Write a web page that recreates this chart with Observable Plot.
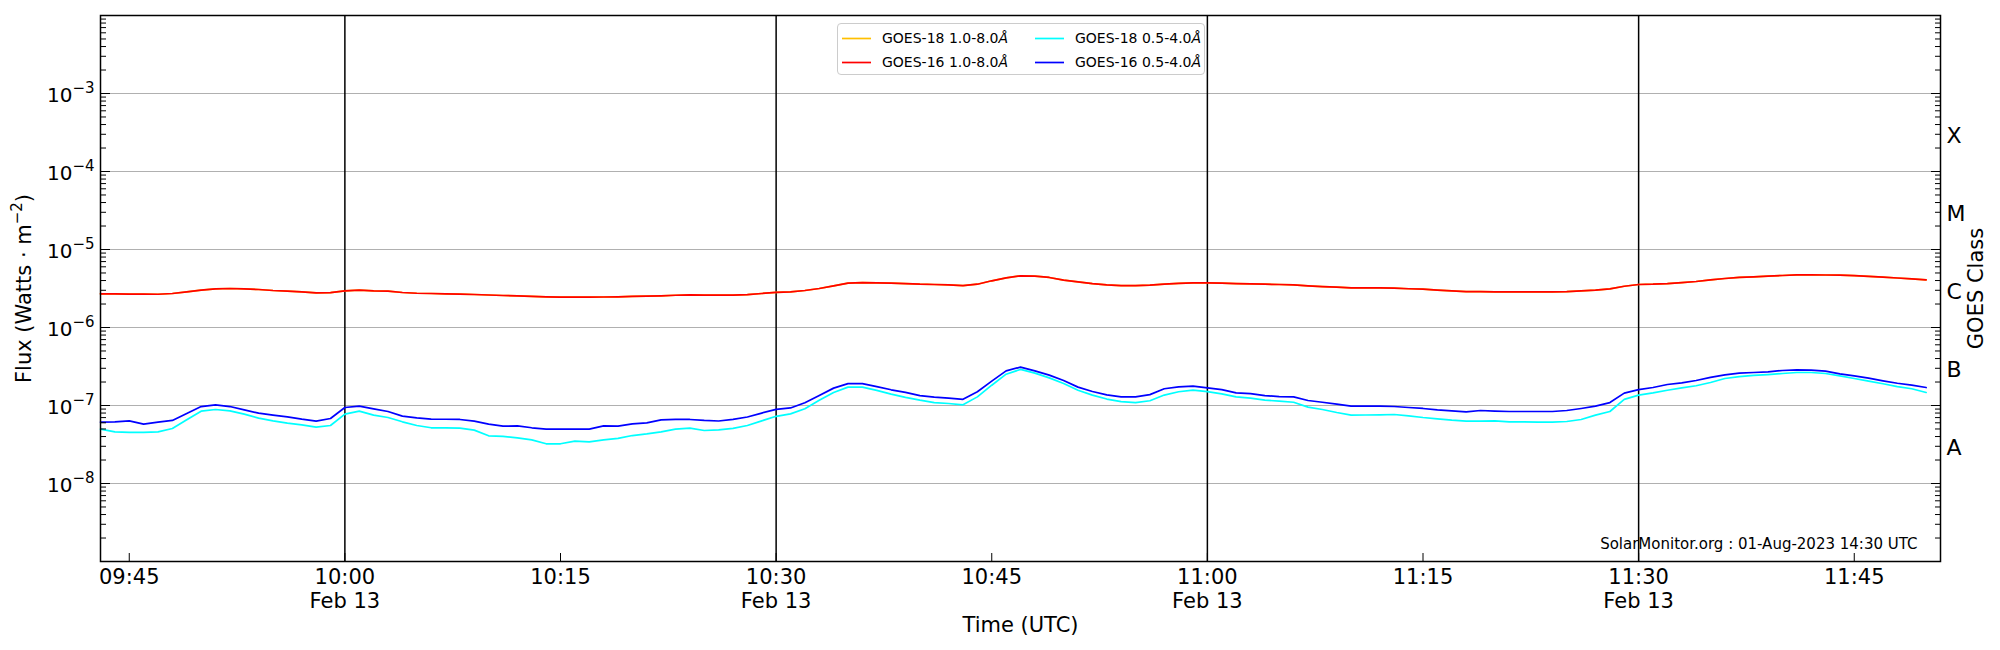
<!DOCTYPE html>
<html>
<head>
<meta charset="utf-8">
<script src="https://cdn.jsdelivr.net/npm/d3@7"></script>
<script src="https://cdn.jsdelivr.net/npm/@observablehq/plot@0.6"></script>
<style>
  body { margin: 0; background: #fff; }
  #wrap { position: relative; width: 2000px; height: 650px; font-family: "DejaVu Sans", sans-serif; }
  #legend { position: absolute; left: 837px; top: 23px; width: 368px; height: 52px; box-sizing: border-box;
            border: 1px solid #cccccc; border-radius: 4px; background: rgba(255,255,255,0.8); font-size: 14px; color: #000; }
  .item { position: absolute; height: 16px; line-height: 16px; white-space: nowrap; }
  .item svg { position: absolute; left: 0; top: 0; }
  .item span.t { position: absolute; top: 0; }
</style>
</head>
<body>
<div id="wrap"><div id="legend"></div></div>
<script>
// ---- data (1-minute GOES XRS fluxes, W/m^2), starting 2023-02-13 09:43 UTC ----
const startTime = "2023-02-13T09:43:00Z";

const goes18Long = [
2.70e-6,2.70e-6,2.68e-6,2.68e-6,2.67e-6,2.73e-6,2.87e-6,3.01e-6,3.13e-6,3.16e-6,
3.13e-6,3.07e-6,2.98e-6,2.92e-6,2.87e-6,2.78e-6,2.80e-6,2.95e-6,3.01e-6,2.95e-6,
2.92e-6,2.81e-6,2.75e-6,2.73e-6,2.70e-6,2.68e-6,2.65e-6,2.61e-6,2.57e-6,2.55e-6,
2.51e-6,2.47e-6,2.45e-6,2.45e-6,2.45e-6,2.46e-6,2.47e-6,2.50e-6,2.52e-6,2.55e-6,
2.59e-6,2.62e-6,2.60e-6,2.60e-6,2.60e-6,2.64e-6,2.73e-6,2.82e-6,2.87e-6,2.98e-6,
3.16e-6,3.42e-6,3.70e-6,3.77e-6,3.74e-6,3.70e-6,3.66e-6,3.59e-6,3.56e-6,3.52e-6,
3.45e-6,3.59e-6,3.97e-6,4.33e-6,4.60e-6,4.55e-6,4.38e-6,4.05e-6,3.85e-6,3.66e-6,
3.52e-6,3.45e-6,3.45e-6,3.49e-6,3.59e-6,3.68e-6,3.74e-6,3.74e-6,3.70e-6,3.65e-6,
3.62e-6,3.59e-6,3.56e-6,3.51e-6,3.42e-6,3.35e-6,3.29e-6,3.23e-6,3.23e-6,3.23e-6,
3.20e-6,3.14e-6,3.10e-6,3.01e-6,2.95e-6,2.89e-6,2.88e-6,2.87e-6,2.87e-6,2.87e-6,
2.87e-6,2.87e-6,2.88e-6,2.95e-6,3.01e-6,3.13e-6,3.38e-6,3.56e-6,3.59e-6,3.66e-6,
3.77e-6,3.89e-6,4.08e-6,4.25e-6,4.39e-6,4.46e-6,4.55e-6,4.64e-6,4.73e-6,4.73e-6,
4.71e-6,4.69e-6,4.62e-6,4.53e-6,4.42e-6,4.31e-6,4.19e-6,4.08e-6];

const goes16Long = [
2.70e-6,2.70e-6,2.68e-6,2.68e-6,2.67e-6,2.73e-6,2.87e-6,3.01e-6,3.13e-6,3.16e-6,
3.13e-6,3.07e-6,2.98e-6,2.92e-6,2.87e-6,2.78e-6,2.80e-6,2.95e-6,3.01e-6,2.95e-6,
2.92e-6,2.81e-6,2.75e-6,2.73e-6,2.70e-6,2.68e-6,2.65e-6,2.61e-6,2.57e-6,2.55e-6,
2.51e-6,2.47e-6,2.45e-6,2.45e-6,2.45e-6,2.46e-6,2.47e-6,2.50e-6,2.52e-6,2.55e-6,
2.59e-6,2.62e-6,2.60e-6,2.60e-6,2.60e-6,2.64e-6,2.73e-6,2.82e-6,2.87e-6,2.98e-6,
3.16e-6,3.42e-6,3.70e-6,3.77e-6,3.74e-6,3.70e-6,3.66e-6,3.59e-6,3.56e-6,3.52e-6,
3.45e-6,3.59e-6,3.97e-6,4.33e-6,4.60e-6,4.55e-6,4.38e-6,4.05e-6,3.85e-6,3.66e-6,
3.52e-6,3.45e-6,3.45e-6,3.49e-6,3.59e-6,3.68e-6,3.74e-6,3.74e-6,3.70e-6,3.65e-6,
3.62e-6,3.59e-6,3.56e-6,3.51e-6,3.42e-6,3.35e-6,3.29e-6,3.23e-6,3.23e-6,3.23e-6,
3.20e-6,3.14e-6,3.10e-6,3.01e-6,2.95e-6,2.89e-6,2.88e-6,2.87e-6,2.87e-6,2.87e-6,
2.87e-6,2.87e-6,2.88e-6,2.95e-6,3.01e-6,3.13e-6,3.38e-6,3.56e-6,3.59e-6,3.66e-6,
3.77e-6,3.89e-6,4.08e-6,4.25e-6,4.39e-6,4.46e-6,4.55e-6,4.64e-6,4.73e-6,4.73e-6,
4.71e-6,4.69e-6,4.62e-6,4.53e-6,4.42e-6,4.31e-6,4.19e-6,4.08e-6];

const goes18Short = [
4.98e-8,4.60e-8,4.51e-8,4.51e-8,4.60e-8,5.07e-8,6.55e-8,8.46e-8,8.89e-8,8.55e-8,
7.75e-8,6.88e-8,6.36e-8,5.94e-8,5.65e-8,5.28e-8,5.54e-8,7.75e-8,8.46e-8,7.52e-8,
7.02e-8,6.18e-8,5.54e-8,5.18e-8,5.16e-8,5.13e-8,4.83e-8,4.09e-8,4.01e-8,3.85e-8,
3.63e-8,3.23e-8,3.23e-8,3.49e-8,3.42e-8,3.63e-8,3.78e-8,4.12e-8,4.33e-8,4.60e-8,
4.98e-8,5.13e-8,4.78e-8,4.88e-8,5.10e-8,5.54e-8,6.36e-8,7.27e-8,7.82e-8,9.10e-8,
1.17e-7,1.47e-7,1.72e-7,1.72e-7,1.56e-7,1.40e-7,1.27e-7,1.17e-7,1.09e-7,1.06e-7,
1.02e-7,1.29e-7,1.82e-7,2.52e-7,2.90e-7,2.60e-7,2.26e-7,1.91e-7,1.57e-7,1.36e-7,
1.21e-7,1.12e-7,1.09e-7,1.15e-7,1.36e-7,1.50e-7,1.57e-7,1.51e-7,1.41e-7,1.29e-7,
1.24e-7,1.17e-7,1.14e-7,1.10e-7,9.52e-8,8.89e-8,8.13e-8,7.52e-8,7.55e-8,7.59e-8,
7.67e-8,7.38e-8,7.02e-8,6.75e-8,6.49e-8,6.30e-8,6.30e-8,6.36e-8,6.18e-8,6.18e-8,
6.11e-8,6.11e-8,6.24e-8,6.62e-8,7.52e-8,8.38e-8,1.20e-7,1.36e-7,1.45e-7,1.57e-7,
1.68e-7,1.79e-7,1.97e-7,2.22e-7,2.35e-7,2.43e-7,2.49e-7,2.57e-7,2.65e-7,2.65e-7,
2.57e-7,2.40e-7,2.22e-7,2.05e-7,1.90e-7,1.75e-7,1.64e-7,1.47e-7];

const goes16Short = [
6.11e-8,6.18e-8,6.36e-8,5.76e-8,6.11e-8,6.43e-8,7.89e-8,9.70e-8,1.02e-7,9.70e-8,
8.79e-8,7.97e-8,7.52e-8,7.16e-8,6.68e-8,6.30e-8,6.81e-8,9.42e-8,9.80e-8,9.05e-8,
8.37e-8,7.30e-8,6.95e-8,6.68e-8,6.66e-8,6.62e-8,6.30e-8,5.77e-8,5.43e-8,5.48e-8,
5.18e-8,4.98e-8,4.98e-8,4.98e-8,4.98e-8,5.48e-8,5.43e-8,5.82e-8,6.00e-8,6.55e-8,
6.62e-8,6.62e-8,6.43e-8,6.33e-8,6.65e-8,7.12e-8,8.00e-8,8.93e-8,9.30e-8,1.085e-7,
1.34e-7,1.67e-7,1.91e-7,1.91e-7,1.75e-7,1.59e-7,1.47e-7,1.34e-7,1.28e-7,1.24e-7,
1.20e-7,1.50e-7,2.05e-7,2.78e-7,3.11e-7,2.78e-7,2.45e-7,2.09e-7,1.72e-7,1.51e-7,
1.37e-7,1.29e-7,1.29e-7,1.38e-7,1.64e-7,1.73e-7,1.77e-7,1.68e-7,1.60e-7,1.45e-7,
1.42e-7,1.34e-7,1.30e-7,1.29e-7,1.16e-7,1.10e-7,1.04e-7,9.80e-8,9.80e-8,9.80e-8,
9.71e-8,9.42e-8,9.16e-8,8.80e-8,8.55e-8,8.30e-8,8.63e-8,8.47e-8,8.38e-8,8.38e-8,
8.38e-8,8.38e-8,8.63e-8,9.16e-8,9.80e-8,1.09e-7,1.44e-7,1.60e-7,1.70e-7,1.86e-7,
1.95e-7,2.09e-7,2.29e-7,2.47e-7,2.60e-7,2.65e-7,2.70e-7,2.81e-7,2.87e-7,2.84e-7,
2.76e-7,2.55e-7,2.40e-7,2.24e-7,2.07e-7,1.93e-7,1.82e-7,1.70e-7];

const seriesNames  = ["GOES-18 1.0-8.0", "GOES-16 1.0-8.0", "GOES-18 0.5-4.0", "GOES-16 0.5-4.0"];
const seriesColors = ["#ffbf00", "#ff0000", "#00ffff", "#0000ff"];
const seriesValues = [goes18Long, goes16Long, goes18Short, goes16Short];

// ---- axis tick definitions ----
const xDomain = ["09:43", "11:51"];
const xTickTimes  = ["09:45", "10:00", "10:15", "10:30", "10:45", "11:00", "11:15", "11:30", "11:45"];
const xTickLabels = ["09:45", "10:00\nFeb 13", "10:15", "10:30\nFeb 13", "10:45", "11:00\nFeb 13", "11:15", "11:30\nFeb 13", "11:45"];
const majorTimes  = ["10:00", "10:30", "11:00", "11:30"];
const yDomain = [1e-9, 1e-2];
const yDecades = [1e-9, 1e-8, 1e-7, 1e-6, 1e-5, 1e-4, 1e-3, 1e-2];
const yTickValues = [1e-8, 1e-7, 1e-6, 1e-5, 1e-4, 1e-3];
const yTickBase = "10";
const yTickExps = ["\u22128", "\u22127", "\u22126", "\u22125", "\u22124", "\u22123"];
const classLabels = ["A", "B", "C", "M", "X"];
const classValues = [10 ** -7.5, 10 ** -6.5, 10 ** -5.5, 10 ** -4.5, 10 ** -3.5];
const yTitle = ["Flux (Watts \u00B7 m", "\u22122", ")"];
const xTitle = "Time (UTC)";
const y2Title = "GOES Class";
const footnote = "SolarMonitor.org : 01-Aug-2023 14:30 UTC";

// ---- build ----
const t0 = Date.parse(startTime);
const toDate = s => new Date(`2023-02-13T${s}:00Z`);
const rows = [];
seriesValues.forEach((vals, k) => vals.forEach((v, i) => rows.push({series: seriesNames[k], time: new Date(t0 + i * 60000), flux: v})));

const yMinor = [];
for (let e = -9; e < -2; e++) for (let m = 2; m <= 9; m++) yMinor.push(m * 10 ** e);

const xLab = new Map(xTickTimes.map((s, i) => [+toDate(s), xTickLabels[i]]));
const yTicks = yTickValues.map((v, i) => ({v, label: yTickBase + yTickExps[i]}));
const classRows = classValues.map((v, i) => ({v, label: classLabels[i]}));

const font = "DejaVu Sans";
const FS = 21;
const chart = Plot.plot({
  width: 2000, height: 650,
  marginLeft: 100, marginRight: 60, marginTop: 15, marginBottom: 89,
  style: {fontFamily: font, fontSize: FS + "px", color: "#000", background: "#fff", overflow: "visible"},
  x: {type: "utc", domain: xDomain.map(toDate)},
  y: {type: "log", domain: yDomain},
  marks: [
    Plot.ruleY(yTickValues, {stroke: "#b0b0b0", strokeWidth: 1.2}),
    Plot.ruleX(majorTimes.map(toDate), {stroke: "#000", strokeWidth: 1.5}),
    ...seriesNames.map((name, k) =>
      Plot.line(rows.filter(d => d.series === name), {x: "time", y: "flux", stroke: seriesColors[k], strokeWidth: 1.7})),
    // left ticks (inward)
    Plot.axisY(yDecades, {anchor: "left", tickSize: -10, tickFormat: () => "", label: null}),
    Plot.axisY(yMinor, {anchor: "left", tickSize: -6, tickFormat: () => "", label: null}),
    Plot.text(yTicks, {y: "v", text: "label", frameAnchor: "left", dx: -6, dy: 2, textAnchor: "end", lineAnchor: "middle", fontSize: 20, fill: "#000", className: "ylab"}),
    // right ticks (inward) + class labels
    Plot.axisY(yDecades, {anchor: "right", tickSize: -10, tickFormat: () => "", label: null}),
    Plot.axisY(yMinor, {anchor: "right", tickSize: -6, tickFormat: () => "", label: null}),
    Plot.text(classRows, {y: "v", text: "label", frameAnchor: "right", dx: 6, dy: 3, textAnchor: "start", lineAnchor: "middle", fontSize: 22, fill: "#000"}),
    // bottom ticks (inward) + labels
    Plot.axisX(xTickTimes.map(toDate), {anchor: "bottom", tickSize: -8, tickFormat: () => "", label: null}),
    Plot.axisX(xTickTimes.map(toDate), {anchor: "bottom", tickSize: 0, tickPadding: 6, tickFormat: d => xLab.get(+d), fontSize: FS, lineHeight: 1.12, label: null}),
    Plot.frame({stroke: "#000", strokeWidth: 1.5}),
    // axis titles
    Plot.text([xTitle], {frameAnchor: "bottom", dy: 64, textAnchor: "middle", lineAnchor: "middle", fontSize: FS, fill: "#000"}),
    Plot.text([yTitle.join("")], {frameAnchor: "left", dx: -76, rotate: -90, textAnchor: "middle", lineAnchor: "middle", fontSize: FS, fill: "#000", className: "ytitle"}),
    Plot.text([y2Title], {frameAnchor: "right", dx: 36, rotate: -90, textAnchor: "middle", lineAnchor: "middle", fontSize: FS, fill: "#000"}),
    Plot.text([footnote], {frameAnchor: "bottom-right", dx: -23, dy: -17, textAnchor: "end", lineAnchor: "middle", fontSize: 15, fill: "#000"})
  ]
});
document.getElementById("wrap").prepend(chart);

// mathtext-like superscripts for the y tick labels and the y title
d3.select(chart).selectAll("g.ylab text").each(function() {
  const t = d3.select(this);
  const full = t.text();
  const base = full.slice(0, yTickBase.length), exp = full.slice(yTickBase.length);
  t.text(null);
  t.append("tspan").text(base);
  t.append("tspan").attr("dy", "-9").attr("font-size", "15px").text(exp);
});
d3.select(chart).selectAll("g.ytitle text").each(function() {
  const t = d3.select(this);
  t.text(null);
  t.append("tspan").text(yTitle[0]);
  t.append("tspan").attr("dy", "-9").attr("font-size", "15px").text(yTitle[1]);
  t.append("tspan").attr("dy", "9").text(yTitle[2]);
});

// ---- legend (column-major, 2 columns) ----
const legend = document.getElementById("legend");
const pos = [[4, 6], [4, 30], [197, 6], [197, 30]];
seriesNames.forEach((name, k) => {
  const it = document.createElement("div");
  it.className = "item";
  it.style.left = pos[k][0] + "px";
  it.style.top = pos[k][1] + "px";
  it.innerHTML = `<svg width="30" height="16"><line x1="0" x2="29" y1="8.5" y2="8.5" stroke="${seriesColors[k]}" stroke-width="1.7"/></svg>` +
                 `<span class="t" style="left:40px">${name}<span style="font-style:italic">\u00C5</span></span>`;
  legend.appendChild(it);
});
</script>
</body>
</html>
